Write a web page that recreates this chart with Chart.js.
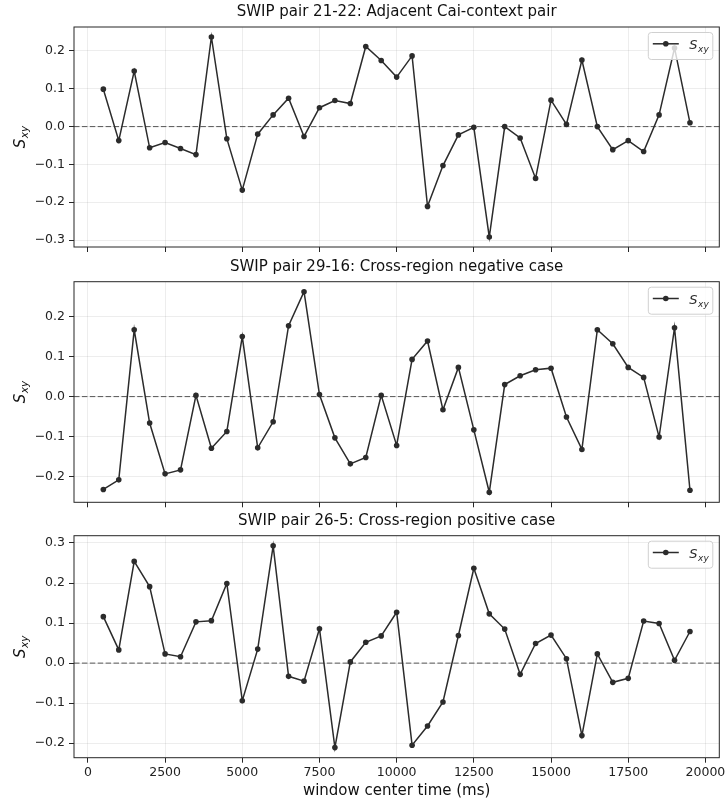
<!DOCTYPE html>
<html>
<head>
<meta charset="utf-8">
<script src="https://cdn.jsdelivr.net/npm/chart.js@4.4.0/dist/chart.umd.min.js"></script>
<style>
  body { margin: 0; background: #fff; }
  canvas { position: absolute; left: 0; }
</style>
</head>
<body>
<canvas id="c1" width="726" height="262" style="top:0px"></canvas>
<canvas id="c2" width="726" height="264" style="top:252px"></canvas>
<canvas id="c3" width="726" height="294" style="top:506px"></canvas>
<script>
// window centers (ms)
const windowCenters = [500, 1000, 1500, 2000, 2500, 3000, 3500, 4000, 4500, 5000,
  5500, 6000, 6500, 7000, 7500, 8000, 8500, 9000, 9500, 10000,
  10500, 11000, 11500, 12000, 12500, 13000, 13500, 14000, 14500, 15000,
  15500, 16000, 16500, 17000, 17500, 18000, 18500, 19000, 19500];

// S_xy per pair
const sxy2122 = [0.099, -0.037, 0.147, -0.056, -0.042, -0.058, -0.074, 0.237, -0.032, -0.168,
  -0.020, 0.031, 0.075, -0.026, 0.050, 0.069, 0.061, 0.212, 0.175, 0.131,
  0.187, -0.211, -0.103, -0.022, -0.002, -0.292, 0.000, -0.030, -0.137, 0.070,
  0.006, 0.176, 0.000, -0.061, -0.037, -0.066, 0.031, 0.208, 0.010];
const sxy2916 = [-0.232, -0.208, 0.167, -0.066, -0.193, -0.183, 0.003, -0.129, -0.087, 0.150,
  -0.128, -0.063, 0.177, 0.262, 0.005, -0.103, -0.168, -0.152, 0.003, -0.122,
  0.093, 0.139, -0.033, 0.073, -0.083, -0.239, 0.030, 0.052, 0.067, 0.071,
  -0.051, -0.132, 0.167, 0.132, 0.073, 0.048, -0.101, 0.172, -0.234];
const sxy265 = [0.116, 0.033, 0.254, 0.191, 0.023, 0.016, 0.103, 0.106, 0.199, -0.094,
  0.035, 0.293, -0.033, -0.045, 0.086, -0.211, 0.003, 0.052, 0.068, 0.127,
  -0.205, -0.157, -0.097, 0.069, 0.237, 0.123, 0.085, -0.028, 0.049, 0.070,
  0.011, -0.181, 0.023, -0.048, -0.038, 0.105, 0.099, 0.007, 0.079];

const xTicks = [0, 2500, 5000, 7500, 10000, 12500, 15000, 17500, 20000];
const yTicks2122 = [-0.3, -0.2, -0.1, 0.0, 0.1, 0.2];
const yTicks2916 = [-0.2, -0.1, 0.0, 0.1, 0.2];
const yTicks265 = [-0.2, -0.1, 0.0, 0.1, 0.2, 0.3];

const title2122 = 'SWIP pair 21-22: Adjacent Cai-context pair';
const title2916 = 'SWIP pair 29-16: Cross-region negative case';
const title265 = 'SWIP pair 26-5: Cross-region positive case';
const xLabel = 'window center time (ms)';

Chart.defaults.font.family = '"DejaVu Sans", sans-serif';

const INK = '#262626';
const LINE = '#2b2b2b';

// draws "S" with subscript "xy"
function drawSxy(ctx, x, y, big, small) {
  ctx.font = 'italic ' + big + 'px "DejaVu Sans"';
  ctx.textBaseline = 'alphabetic';
  ctx.textAlign = 'left';
  const w = ctx.measureText('S').width;
  ctx.fillText('S', x, y);
  ctx.font = 'italic ' + small + 'px "DejaVu Sans"';
  ctx.fillText('xy', x + w + 0.5, y + big * 0.22);
}
function sxyWidth(ctx, big, small) {
  ctx.font = 'italic ' + big + 'px "DejaVu Sans"';
  const a = ctx.measureText('S').width;
  ctx.font = 'italic ' + small + 'px "DejaVu Sans"';
  return a + 0.5 + ctx.measureText('xy').width;
}

const panelDecor = {
  id: 'panelDecor',
  beforeDatasetsDraw(chart) {
    const { ctx, chartArea: a, scales } = chart;
    const y0 = scales.y.getPixelForValue(0);
    ctx.save();
    ctx.strokeStyle = '#555';
    ctx.lineWidth = 1;
    ctx.setLineDash([5.5, 2.4]);
    ctx.beginPath();
    ctx.moveTo(a.left, y0);
    ctx.lineTo(a.right, y0);
    ctx.stroke();
    ctx.restore();
  },
  afterDraw(chart, args, opts) {
    const { ctx, chartArea: a } = chart;
    ctx.save();
    // spines
    ctx.strokeStyle = INK;
    ctx.lineWidth = 1;
    ctx.strokeRect(a.left, a.top, a.right - a.left, a.bottom - a.top);
    // title
    ctx.fillStyle = '#111';
    ctx.font = '15px "DejaVu Sans"';
    ctx.textAlign = 'center';
    ctx.textBaseline = 'middle';
    ctx.fillText(opts.title, (a.left + a.right) / 2, a.top - 14.5);
    // y label
    ctx.save();
    ctx.translate(20, (a.top + a.bottom) / 2);
    ctx.rotate(-Math.PI / 2);
    const yw = sxyWidth(ctx, 15, 10.5);
    drawSxy(ctx, -yw / 2, 5, 15, 10.5);
    ctx.restore();
    // legend
    const bw = 64.5, bh = 27;
    const bx = a.right - 6.5 - bw, by = a.top + 5.5;
    ctx.fillStyle = 'rgba(255,255,255,0.8)';
    ctx.strokeStyle = '#d0d0d0';
    ctx.lineWidth = 1;
    ctx.beginPath();
    ctx.roundRect(bx, by, bw, bh, 3);
    ctx.fill();
    ctx.stroke();
    const ly = by + 11.3;
    ctx.strokeStyle = LINE;
    ctx.lineWidth = 1.5;
    ctx.beginPath();
    ctx.moveTo(bx + 4.5, ly);
    ctx.lineTo(bx + 30.5, ly);
    ctx.stroke();
    ctx.fillStyle = LINE;
    ctx.beginPath();
    ctx.arc(bx + 17.5, ly, 2.8, 0, Math.PI * 2);
    ctx.fill();
    drawSxy(ctx, bx + 41, by + 16.5, 13, 9);
    ctx.restore();
  }
};

function fmtY(v) {
  const s = Math.abs(v).toFixed(1);
  return v < -1e-9 ? '\u2212' + s : s;
}

function makePanel(id, values, yTicks, title, padTop, xAxisH, showX) {
  const lo = Math.min(...values), hi = Math.max(...values);
  const m = (hi - lo) * 0.05;
  new Chart(document.getElementById(id), {
    type: 'line',
    data: {
      datasets: [{
        label: 'S_xy',
        data: windowCenters.map((x, i) => ({ x: x, y: values[i] })),
        borderColor: LINE,
        backgroundColor: LINE,
        borderWidth: 1.5,
        pointRadius: 2.8,
        pointHoverRadius: 2.8,
        pointBorderWidth: 0,
        tension: 0,
        clip: false
      }]
    },
    options: {
      responsive: false,
      animation: false,
      layout: { padding: { top: padTop, left: 0, right: 6.7, bottom: 0 } },
      plugins: {
        legend: { display: false },
        tooltip: { enabled: false },
        panelDecor: { title: title }
      },
      scales: {
        x: {
          type: 'linear',
          min: -450,
          max: 20450,
          afterBuildTicks: s => { s.ticks = xTicks.map(v => ({ value: v })); },
          afterFit: s => { s.height = xAxisH; s.paddingLeft = 0; s.paddingRight = 0; },
          grid: { color: 'rgba(0,0,0,0.07)', tickColor: INK, tickLength: 5 },
          border: { display: false },
          ticks: {
            display: showX,
            color: '#222',
            font: { size: 12.5 },
            padding: 3,
            maxRotation: 0,
            autoSkip: false,
            callback: v => String(v)
          },
          title: {
            display: showX,
            text: xLabel,
            color: '#111',
            font: { size: 15 },
            padding: { top: 0, bottom: 0 }
          }
        },
        y: {
          min: lo - m,
          max: hi + m,
          afterBuildTicks: s => { s.ticks = yTicks.map(v => ({ value: v })); },
          afterFit: s => { s.width = 74; },
          grid: { color: 'rgba(0,0,0,0.07)', tickColor: INK, tickLength: 5 },
          border: { display: false },
          ticks: {
            color: '#222',
            font: { size: 12.5 },
            padding: 4,
            callback: v => fmtY(v)
          }
        }
      }
    },
    plugins: [panelDecor]
  });
}

makePanel('c1', sxy2122, yTicks2122, title2122, 27, 15, false);
makePanel('c2', sxy2916, yTicks2916, title2916, 29.7, 13.7, false);
makePanel('c3', sxy265, yTicks265, title265, 29.7, 42.3, true);
</script>
</body>
</html>
